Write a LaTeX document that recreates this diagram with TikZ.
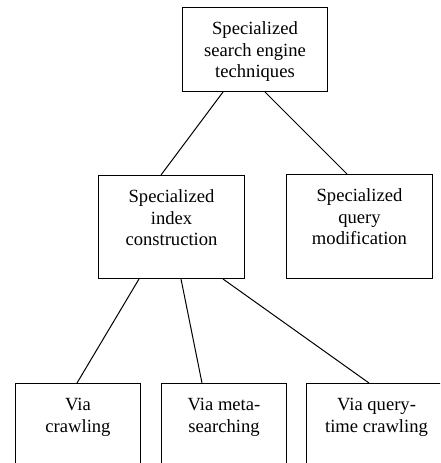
\documentclass[tikz,border=0pt]{standalone}
\usepackage{fontspec}
\setmainfont{Liberation Serif}
\usepackage{tikz}

\newcommand{\boxtxt}[3]{\parbox[t][#2][t]{#1}{\centering\rule{0pt}{27pt}#3}}

\tikzset{
	box/.style={draw, line width=1pt, inner sep=0pt, anchor=north west,
		font=\fontsize{18.6}{21.7}\selectfont},
	edge/.style={line width=1pt}
}

\begin{document}
\begin{tikzpicture}[x=1pt,y=-1pt]
	\useasboundingbox (0,0) rectangle (440,463);
	\clip (0,0) rectangle (440,463);
	
	\node[box] (tech) at (182,7) {\boxtxt{145pt}{84pt}{Specialized\\search engine\\techniques}};
	\node[box] (index) at (98,175) {\boxtxt{146pt}{103pt}{Specialized\\index\\construction}};
	\node[box] (query) at (286,174) {\boxtxt{146pt}{104pt}{Specialized\\query\\modification}};
	\node[box] (crawl) at (15,383) {\boxtxt{125pt}{103pt}{Via\\crawling}};
	\node[box] (meta) at (161,383) {\boxtxt{125pt}{103pt}{Via meta-\\searching}};
	\node[box] (qtime) at (306,383) {\boxtxt{140pt}{103pt}{Via query-\\time crawling}};
	
	\draw[edge] ([xshift=41pt]tech.south west) -- ([xshift=63pt]index.north west);
	\draw[edge] ([xshift=83pt]tech.south west) -- ([xshift=61pt]query.north west);
	\draw[edge] ([xshift=41pt]index.south west) -- ([xshift=62pt]crawl.north west);
	\draw[edge] ([xshift=83pt]index.south west) -- ([xshift=41pt]meta.north west);
	\draw[edge] ([xshift=125pt]index.south west) -- ([xshift=63pt]qtime.north west);
\end{tikzpicture}
\end{document}
